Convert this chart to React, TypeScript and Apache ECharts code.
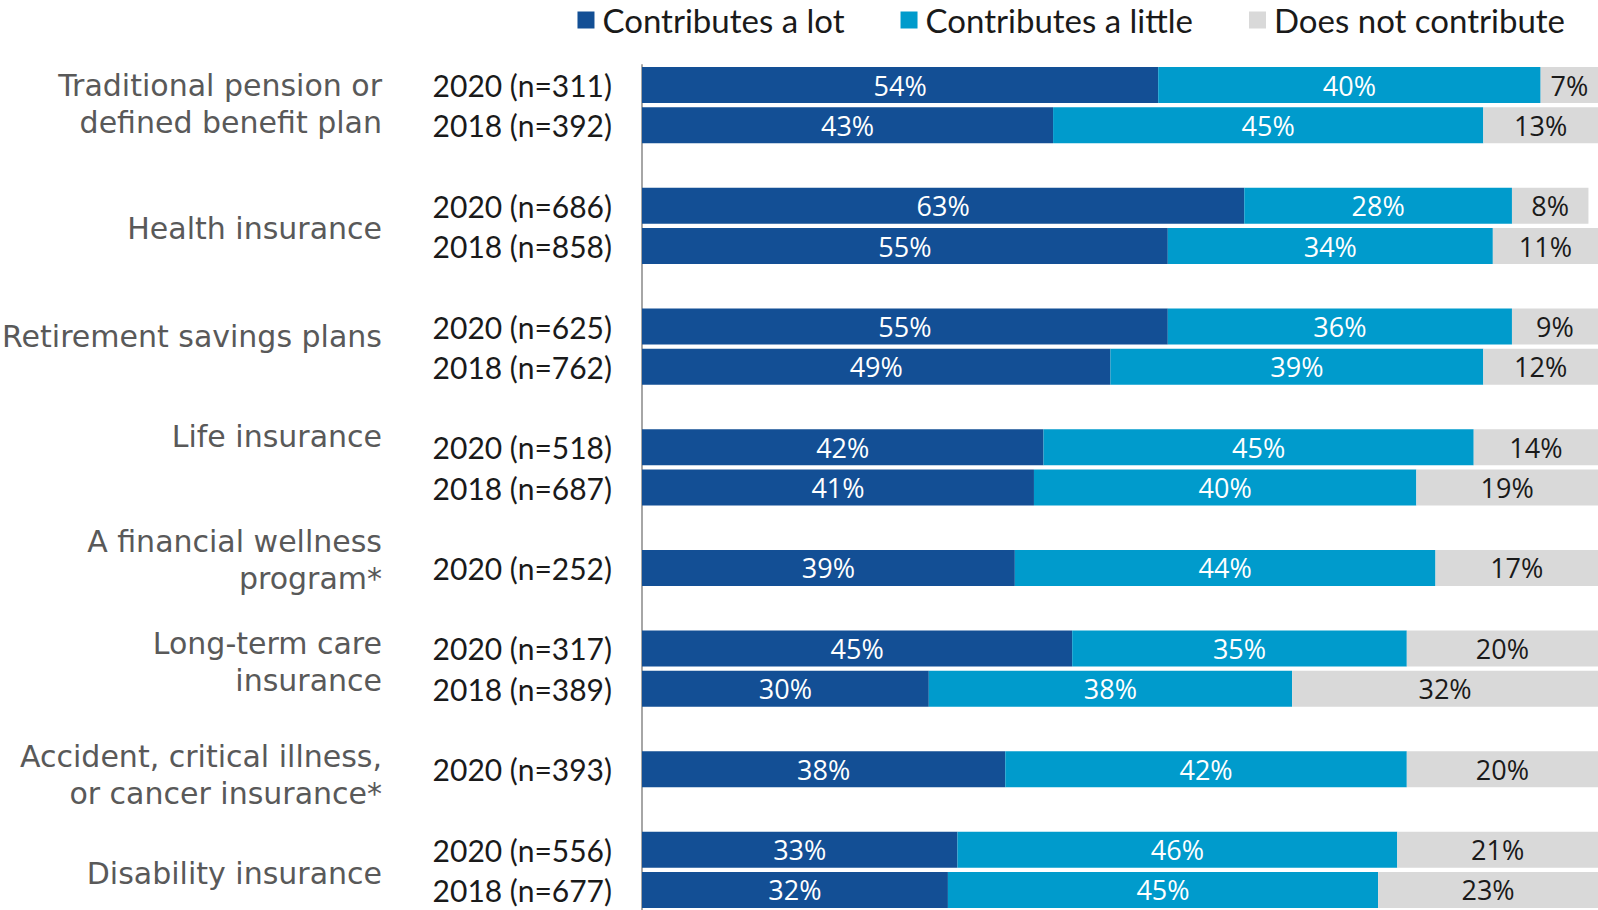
import React, { useEffect, useRef } from "react";
import * as echarts from "echarts";

const categories = [
  "2020 (n=311)", "2018 (n=392)", "",
  "2020 (n=686)", "2018 (n=858)", "",
  "2020 (n=625)", "2018 (n=762)", "",
  "2020 (n=518)", "2018 (n=687)", "",
  "2020 (n=252)", "",
  "2020 (n=317)", "2018 (n=389)", "",
  "2020 (n=393)", "",
  "2020 (n=556)", "2018 (n=677)",
];
const contributesALot = [54, 43, "-", 63, 55, "-", 55, 49, "-", 42, 41, "-", 39, "-", 45, 30, "-", 38, "-", 33, 32];
const contributesALittle = [40, 45, "-", 28, 34, "-", 36, 39, "-", 45, 40, "-", 44, "-", 35, 38, "-", 42, "-", 46, 45];
const doesNotContribute = [7, 13, "-", 8, 11, "-", 9, 12, "-", 14, 19, "-", 17, "-", 20, 32, "-", 20, "-", 21, 23];
const seriesNames = ["Contributes a lot", "Contributes a little", "Does not contribute"];
const groupLabels = [
  "Traditional pension or\ndefined benefit plan",
  "Health insurance",
  "Retirement savings plans",
  "Life insurance",
  "A financial wellness\nprogram*",
  "Long-term care\ninsurance",
  "Accident, critical illness,\nor cancer insurance*",
  "Disability insurance",
];
const groupLabelY = [104, 228, 336, 436, 560, 662, 775, 873];

const COLORS = ["#134f95", "#009bcc", "#d9d9d9"];
const LABEL_COLORS = ["#ffffff", "#ffffff", "#1a1a1a"];

export default function App() {
  const ref = useRef<HTMLDivElement>(null);
  useEffect(() => {
    document.body.style.margin = "0";
    if (!ref.current) return;
    const chart = echarts.init(ref.current, null, { renderer: "svg" });
    const seriesData = [contributesALot, contributesALittle, doesNotContribute];
    chart.setOption({
      animation: false,
      legend: {
        data: seriesNames,
        right: 33,
        top: 0,
        padding: 0,
        icon: "rect",
        itemWidth: 17,
        itemHeight: 17,
        itemGap: 56,
        textStyle: {
          fontFamily: "Lato",
          fontSize: 33,
          lineHeight: 40,
          color: "#1a1a1a",
          padding: [0, 0, 0, 3],
        },
      },
      grid: { left: 642, top: 65, width: 959, height: 848 },
      xAxis: {
        type: "value",
        min: 0,
        max: 100,
        show: false,
        splitLine: { show: false },
      },
      yAxis: {
        type: "category",
        data: categories,
        inverse: true,
        axisTick: { show: false },
        axisLine: { show: true, lineStyle: { color: "#a6a6a6", width: 2 } },
        axisLabel: { fontFamily: "Lato", fontSize: 30, color: "#1a1a1a", margin: 30 },
      },
      series: seriesNames.map((name, i) => ({
        name,
        type: "bar",
        stack: "total",
        barWidth: 36,
        data: seriesData[i],
        itemStyle: { color: COLORS[i] },
        label: {
          show: true,
          position: "inside",
          formatter: "{c}%",
          fontFamily: "Open Sans",
          fontSize: 27,
          color: LABEL_COLORS[i],
        },
      })),
      graphic: groupLabels.map((t, i) => ({
        type: "text",
        x: 382,
        y: groupLabelY[i],
        style: {
          text: t,
          fill: "#595959",
          font: "30px 'DejaVu Sans'",
          textAlign: "right",
          textVerticalAlign: "middle",
          lineHeight: 37,
        },
      })),
    });
    return () => chart.dispose();
  }, []);
  return <div ref={ref} style={{ width: 1598, height: 910 }} />;
}
